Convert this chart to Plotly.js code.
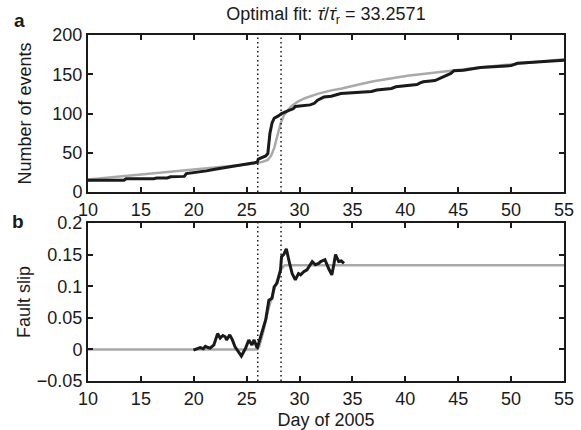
<!DOCTYPE html>
<html>
<head>
<meta charset="utf-8">
<script src="https://cdn.plot.ly/plotly-3.0.1.min.js"></script>
<style>html,body{margin:0;padding:0;background:#fff;}</style>
</head>
<body>
<div id="chart" style="width:581px;height:430px;"></div>
<script>
// Panel a: cumulative number of events (observed, black) and optimal fit (grey)
const eventsObsDays = [10, 13.4, 13.6, 16.2, 16.5, 17.5, 17.8, 18.5, 19.1, 19.3, 20.0, 20.5, 21.2, 22.0, 22.7, 23.4, 24.2, 25.0, 25.7, 26.0, 26.1, 26.8, 27.0, 27.1, 27.2, 27.4, 27.6, 28.0, 28.3, 29.0, 29.4, 29.6, 30.2, 31.0, 31.4, 31.7, 32.3, 33.0, 33.9, 35.0, 36.8, 37.3, 38.0, 38.7, 39.1, 40.0, 41.1, 41.4, 41.7, 42.8, 43.6, 44.3, 44.6, 45.5, 47.1, 48.5, 50.0, 50.6, 52.0, 52.8, 54.0, 55.0];
const eventsObs = [15, 15, 17, 17, 18, 18, 19.5, 20, 20, 23.5, 24.5, 25.5, 27, 29, 30.5, 32, 34, 35.5, 37, 38, 42, 46, 49, 65, 75, 88, 94, 97, 100, 104, 106, 109, 110, 111, 113, 117, 121, 122, 125.5, 126.5, 128, 130, 131, 132, 134, 135, 137, 139, 140.5, 142, 147, 151, 154.5, 155, 158.5, 159.5, 161, 164, 165, 166, 167, 168];
const eventsFitDays = [10, 12, 14, 16, 18, 20, 22, 24, 25, 26, 26.5, 27, 27.3, 27.6, 27.9, 28.2, 28.5, 28.8, 29.2, 29.8, 30.5, 31.7, 33, 34, 35.8, 37, 40.2, 43.3, 44.6, 47, 49.6, 52, 55];
const eventsFit = [16, 18.5, 21, 23.5, 26, 28, 30.5, 33, 35, 37, 38.5, 41, 46, 56, 70, 87, 97, 103, 109, 115, 119.5, 125, 129.5, 132, 137.5, 141, 148, 153, 155, 158.5, 162, 165.5, 169];

// Panel b: fault slip (observed, black) and fit (grey)
const slipObsDays = [19.97, 20.3, 20.6, 20.9, 21.1, 21.35, 21.55, 21.9, 22.25, 22.5, 22.75, 22.97, 23.1, 23.4, 23.65, 23.9, 24.2, 24.5, 24.9, 25.2, 25.5, 25.7, 26.0, 26.3, 26.6, 26.8, 27.1, 27.4, 27.6, 27.87, 28.2, 28.3, 28.5, 28.75, 29.06, 29.3, 29.6, 29.9, 30.1, 30.4, 30.7, 30.9, 31.2, 31.5, 31.8, 32.0, 32.4, 32.75, 33.05, 33.25, 33.4, 33.7, 33.95, 34.2];
const slipObs = [-0.001, 0.001, 0.003, 0.001, 0.005, 0.003, 0.002, 0.007, 0.025, 0.018, 0.022, 0.02, 0.015, 0.023, 0.015, 0.004, -0.003, -0.0105, 0.002, 0.015, 0.007, 0.015, 0.002, 0.02, 0.035, 0.047, 0.078, 0.081, 0.099, 0.105, 0.126, 0.147, 0.15, 0.159, 0.136, 0.12, 0.11, 0.12, 0.118, 0.123, 0.126, 0.131, 0.139, 0.134, 0.136, 0.139, 0.142, 0.128, 0.118, 0.135, 0.150, 0.139, 0.14, 0.136];
const slipFitDays = [10, 26.0, 26.2, 26.6, 27.0, 27.5, 28.0, 28.3, 28.6, 55];
const slipFit = [0, 0, 0.005, 0.03, 0.06, 0.09, 0.115, 0.128, 0.133, 0.133];

// Dotted reference days
const markerDays = [26.05, 28.25];

// Tick labels
const xTicks = [10, 15, 20, 25, 30, 35, 40, 45, 50, 55];
const xTickText = ['10', '15', '20', '25', '30', '35', '40', '45', '50', '55'];
const yTicksA = [0, 50, 100, 150, 200];
const yTickTextA = ['0', '50', '100', '150', '200'];
const yTicksB = [-0.05, 0, 0.05, 0.1, 0.15, 0.2];
const yTickTextB = ['\u22120.05', '0', '0.05', '0.1', '0.15', '0.2'];

const BLACK = '#1a1a1a';
const GREY = '#a9a9a9';
const FONT = 'Liberation Sans, Arial, Helvetica, sans-serif';
const FS = 18;

const traces = [
  {x: eventsFitDays, y: eventsFit, type: 'scatter', mode: 'lines', line: {color: GREY, width: 2.5}, xaxis: 'x', yaxis: 'y', hoverinfo: 'skip'},
  {x: eventsObsDays, y: eventsObs, type: 'scatter', mode: 'lines', line: {color: BLACK, width: 3}, xaxis: 'x', yaxis: 'y', hoverinfo: 'skip'},
  {x: slipFitDays, y: slipFit, type: 'scatter', mode: 'lines', line: {color: GREY, width: 2.5}, xaxis: 'x2', yaxis: 'y2', hoverinfo: 'skip'},
  {x: slipObsDays, y: slipObs, type: 'scatter', mode: 'lines', line: {color: BLACK, width: 3}, xaxis: 'x2', yaxis: 'y2', hoverinfo: 'skip'}
];

const shapes = [];
markerDays.forEach(d => {
  shapes.push({type: 'line', xref: 'x', yref: 'y domain', x0: d, x1: d, y0: 0, y1: 1, line: {color: BLACK, width: 1.5, dash: '1.5px,3px'}});
  shapes.push({type: 'line', xref: 'x2', yref: 'y2 domain', x0: d, x1: d, y0: 0, y1: 1, line: {color: BLACK, width: 1.5, dash: '1.5px,3px'}});
});

const axisCommon = {
  showline: true, linecolor: BLACK, linewidth: 2, mirror: 'ticks',
  ticks: 'inside', ticklen: 5, tickwidth: 2, tickcolor: BLACK,
  showgrid: false, zeroline: false,
  tickfont: {family: FONT, size: FS, color: BLACK}
};

const layout = {
  width: 581, height: 430,
  margin: {l: 88, r: 17, t: 35, b: 49},
  paper_bgcolor: '#fff', plot_bgcolor: '#fff',
  showlegend: false,
  font: {family: FONT, size: FS, color: BLACK},
  title: {
    text: 'Optimal fit: <i>\u03C4\u0307</i>/<i>\u03C4\u0307</i><sub>r</sub> = 33.2571',
    x: 0.5, xref: 'paper', xanchor: 'center',
    y: 0.968, yref: 'container', yanchor: 'middle',
    font: {family: FONT, size: FS, color: BLACK}
  },
  xaxis: Object.assign({}, axisCommon, {domain: [0, 1], anchor: 'y', range: [10, 55], tickvals: xTicks, ticktext: xTickText}),
  yaxis: Object.assign({}, axisCommon, {domain: [0.546, 1], anchor: 'x', range: [0, 200], tickvals: yTicksA, ticktext: yTickTextA,
    title: {text: 'Number of events', font: {family: FONT, size: FS, color: BLACK}, standoff: 16}}),
  xaxis2: Object.assign({}, axisCommon, {domain: [0, 1], anchor: 'y2', range: [10, 55], tickvals: xTicks, ticktext: xTickText,
    title: {text: 'Day of 2005', font: {family: FONT, size: FS, color: BLACK}, standoff: 8}}),
  yaxis2: Object.assign({}, axisCommon, {domain: [0, 0.4566], anchor: 'x2', range: [-0.05, 0.2], tickvals: yTicksB, ticktext: yTickTextB,
    title: {text: 'Fault slip', font: {family: FONT, size: FS, color: BLACK}, standoff: 2}}),
  shapes: shapes,
  annotations: [
    {text: '<b>a</b>', xref: 'paper', yref: 'paper', x: -0.143, y: 1.043, xanchor: 'center', yanchor: 'middle', showarrow: false, font: {family: FONT, size: 19, color: BLACK}},
    {text: '<b>b</b>', xref: 'paper', yref: 'paper', x: -0.147, y: 0.46, xanchor: 'center', yanchor: 'middle', showarrow: false, font: {family: FONT, size: 19, color: BLACK}}
  ]
};

Plotly.newPlot('chart', traces, layout, {staticPlot: true, displayModeBar: false});
</script>
</body>
</html>
